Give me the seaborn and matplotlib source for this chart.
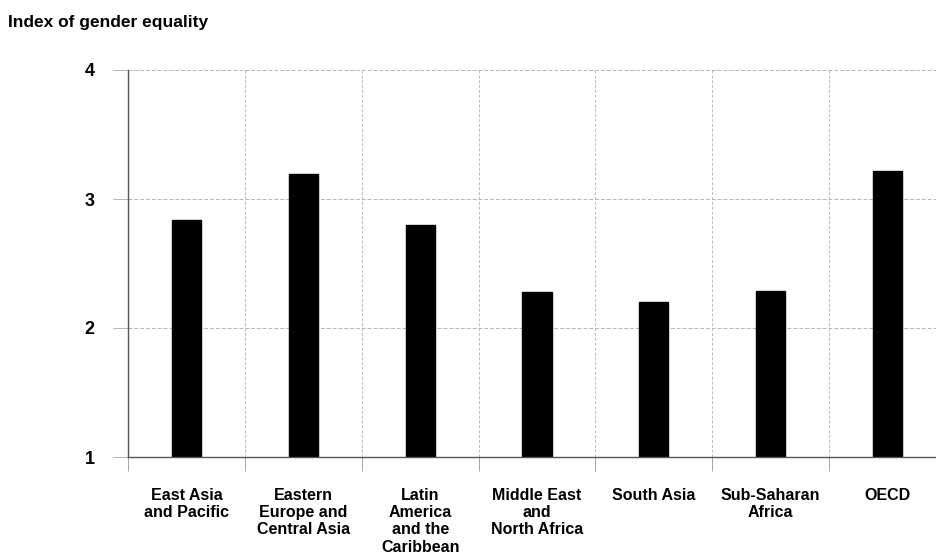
import matplotlib
matplotlib.use("Agg")
import matplotlib.pyplot as plt
import seaborn as sns
import pandas as pd

categories = ["East Asia\nand Pacific", "Eastern\nEurope and\nCentral Asia",
              "Latin\nAmerica\nand the\nCaribbean", "Middle East\nand\nNorth Africa",
              "South Asia", "Sub-Saharan\nAfrica", "OECD"]
values = [2.84, 3.19, 2.80, 2.28, 2.20, 2.29, 3.22]
yticks = [1, 2, 3, 4]
title = "Index of gender equality"

sns.set_style("white")
plt.rcParams['font.family'] = ['Liberation Sans', 'DejaVu Sans']
plt.rcParams['text.color'] = 'black'
plt.rcParams['xtick.color'] = 'black'
plt.rcParams['ytick.color'] = 'black'

df = pd.DataFrame({"region": categories, "value": values})

fig = plt.figure(figsize=(9.37, 5.6), dpi=100)
ax = fig.add_axes([128/937, 1-457/560, 818/937, (457-70)/560])
sns.barplot(data=df, x="region", y="value", color="black", width=0.25,
            saturation=1, ax=ax, edgecolor="black")
ax.set_ylim(1, 4)
ax.set_xlim(-0.5, 6.5)
ax.set_yticks(yticks)
ax.set_yticklabels([str(t) for t in yticks], fontsize=13, fontweight="bold", color="black")
ax.set_xlabel("")
ax.set_ylabel("")

ax.set_xticks(range(len(categories)))
ax.set_xticklabels(categories, fontsize=11.5, fontweight="bold", linespacing=1.2,
                   va="top", ha="center", color="black")
ax.set_xticks([i - 0.5 for i in range(len(categories))], minor=True)
ax.tick_params(bottom=True, left=True, which="both")
ax.tick_params(axis="x", which="major", length=0, pad=22)
ax.tick_params(axis="x", which="minor", length=10, width=0.6, color="#999999", direction="out")
ax.tick_params(axis="y", which="major", length=11, width=0.6, color="#aaaaaa", pad=13)

for y in [2, 3, 4]:
    ax.axhline(y, color="#b5b5b5", lw=0.7, ls=(0, (4, 2)), zorder=0)
for x in [i + 0.5 for i in range(len(categories) - 1)]:
    ax.axvline(x, color="#bbbbbb", lw=0.7, ls=(0, (3, 2)), zorder=0)

for s in ["top", "right"]:
    ax.spines[s].set_visible(False)
ax.spines["left"].set_color("#555555")
ax.spines["left"].set_linewidth(1.0)
ax.spines["bottom"].set_color("#555555")
ax.spines["bottom"].set_linewidth(1.0)

fig.text(8/937, 1-22/560, title, fontsize=12.5, fontweight="bold", va="center", ha="left",
         color="black")

fig.savefig("out.png", dpi=100)
